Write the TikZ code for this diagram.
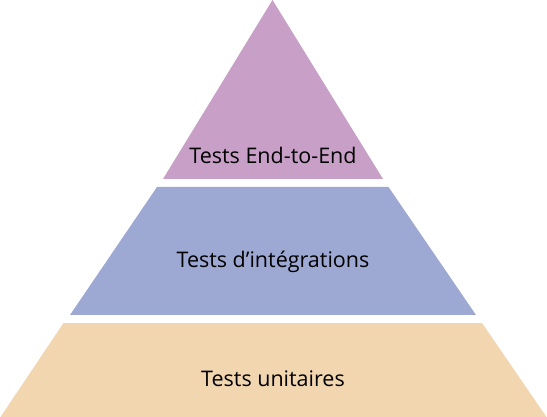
\documentclass[tikz,border=0pt]{standalone}
\usepackage{fontspec}
\setmainfont{Open Sans}
\definecolor{topc}{RGB}{200,160,199}
\definecolor{midc}{RGB}{157,169,211}
\definecolor{botc}{RGB}{242,214,176}
\begin{document}
\begin{tikzpicture}[x=1pt,y=-1pt,
  lbl/.style={font=\fontsize{21.5}{24}\selectfont, text=black, inner sep=0pt, anchor=base}]
\useasboundingbox (0,0) rectangle (547,417);
\fill[white] (0,0) rectangle (547,417);
\fill[topc] (272.5,0) -- (383,179) -- (163,179) -- cycle;
\fill[midc] (157,187) -- (388.5,187) -- (476,315) -- (70,315) -- cycle;
\fill[botc] (63.5,323) -- (482,323) -- (546.5,417) -- (0.5,417) -- cycle;
\node[lbl] (e2e) at (273,163.3) {Tests End-to-End};
\node[lbl] (integ) at (273,267.3) {Tests d’intégrations};
\node[lbl] (unit) at (273,386) {Tests unitaires};
\end{tikzpicture}
\end{document}
